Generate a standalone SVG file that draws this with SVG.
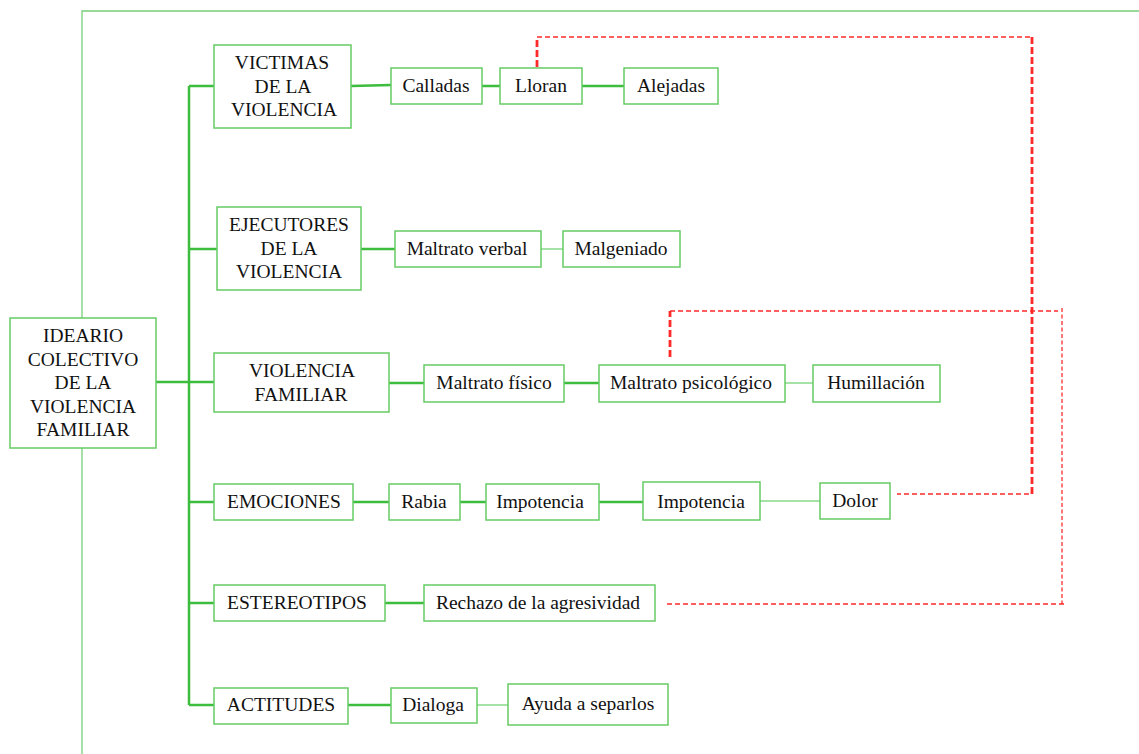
<svg xmlns="http://www.w3.org/2000/svg" width="1139" height="754" viewBox="0 0 1139 754">
<style>
.box{fill:#fff;stroke:#66cc66;stroke-width:1.5}
.t{font-family:'Liberation Serif','DejaVu Serif',serif;font-size:19.5px;fill:#111;text-anchor:middle}
.thick{stroke:#3dbd3d;stroke-width:2.5;fill:none}
.thin{stroke:#88d888;stroke-width:1.5;fill:none}
.frame{stroke:#77cf77;stroke-width:1.3;fill:none}
.rt{stroke:#ff2a2a;stroke-width:1.4;stroke-dasharray:5 3;fill:none}
.rk{stroke:#ff2a2a;stroke-width:2.8;stroke-dasharray:7 3;fill:none}
.rv{stroke:#ff4a4a;stroke-width:1.5;stroke-dasharray:4 2.5;fill:none}
</style>
<rect width="1139" height="754" fill="#fff"/>
<path class="frame" d="M82,754 V11 H1139"/>
<g id="connectors">
<path class="thick" d="M189,86 V705"/>
<path class="thick" d="M189,86 H214 M189,249 H217 M156,382 H214 M189,502 H214 M189,603 H214 M189,705 H214"/>
<path class="thick" d="M351,86 L391,85 M482,86 H500 M582,86 H624"/>
<path class="thick" d="M361,249 H395"/>
<path class="thin" d="M541,249 H563"/>
<path class="thick" d="M389,383 H424 M564,383 H599"/>
<path class="thin" d="M785,383 H813"/>
<path class="thick" d="M353,502 H389 M460,502 H486 M599,502 H643"/>
<path class="thin" d="M760,501 H820"/>
<path class="thick" d="M385,603 H424"/>
<path class="thick" d="M348,705 H391"/>
<path class="thin" d="M477,705 H508"/>
<path class="rk" d="M537,67 V37"/>
<path class="rt" d="M537,37 H1031"/>
<path class="rk" d="M1032,37 V494"/>
<path class="rt" d="M1029,494 H897"/>
<path class="rk" d="M670,357 V311"/>
<path class="rt" d="M670,311 H1058"/>
<path class="rv" d="M1062,308 V604"/>
<path class="rt" d="M1064,604 H665"/>
</g>
<g id="n-ideario"><rect class="box" x="10" y="318" width="146" height="130"/>
<text class="t" x="83" y="342">IDEARIO</text><text class="t" x="83" y="366">COLECTIVO</text><text class="t" x="83" y="389">DE LA</text><text class="t" x="83" y="413">VIOLENCIA</text><text class="t" x="83" y="436">FAMILIAR</text></g>
<g id="n-victimas"><rect class="box" x="214" y="45" width="137" height="83"/>
<text class="t" x="282" y="69">VICTIMAS</text><text class="t" x="283" y="93">DE LA</text><text class="t" x="284" y="116">VIOLENCIA</text></g>
<g id="n-ejecutores"><rect class="box" x="217" y="207" width="144" height="83"/>
<text class="t" x="289" y="231">EJECUTORES</text><text class="t" x="289" y="255">DE LA</text><text class="t" x="289" y="278">VIOLENCIA</text></g>
<g id="n-violfam"><rect class="box" x="214" y="353" width="175" height="59"/>
<text class="t" x="302" y="377">VIOLENCIA</text><text class="t" x="301" y="401">FAMILIAR</text></g>
<g id="n-emociones"><rect class="box" x="214" y="484" width="139" height="36"/><text class="t" x="284" y="508">EMOCIONES</text></g>
<g id="n-estereotipos"><rect class="box" x="214" y="585" width="171" height="36"/><text class="t" x="297" y="609">ESTEREOTIPOS</text></g>
<g id="n-actitudes"><rect class="box" x="214" y="688" width="134" height="36"/><text class="t" x="281" y="711">ACTITUDES</text></g>
<g id="n-calladas"><rect class="box" x="391" y="68" width="91" height="36"/><text class="t" x="436" y="92">Calladas</text></g>
<g id="n-lloran"><rect class="box" x="500" y="68" width="82" height="36"/><text class="t" x="541" y="92">Lloran</text></g>
<g id="n-alejadas"><rect class="box" x="624" y="68" width="94" height="36"/><text class="t" x="671" y="92">Alejadas</text></g>
<g id="n-mverbal"><rect class="box" x="395" y="231" width="146" height="36"/><text class="t" x="467" y="255">Maltrato verbal</text></g>
<g id="n-malgeniado"><rect class="box" x="563" y="231" width="117" height="36"/><text class="t" x="621" y="255">Malgeniado</text></g>
<g id="n-mfisico"><rect class="box" x="424" y="365" width="140" height="37"/><text class="t" x="494" y="389">Maltrato físico</text></g>
<g id="n-mpsico"><rect class="box" x="599" y="365" width="186" height="37"/><text class="t" x="691" y="389">Maltrato psicológico</text></g>
<g id="n-humillacion"><rect class="box" x="813" y="365" width="127" height="37"/><text class="t" x="876" y="389">Humillación</text></g>
<g id="n-rabia"><rect class="box" x="389" y="484" width="71" height="36"/><text class="t" x="424" y="508">Rabia</text></g>
<g id="n-impotencia1"><rect class="box" x="486" y="484" width="113" height="36"/><text class="t" x="540" y="508">Impotencia</text></g>
<g id="n-impotencia2"><rect class="box" x="643" y="482" width="117" height="38"/><text class="t" x="701" y="508">Impotencia</text></g>
<g id="n-dolor"><rect class="box" x="820" y="483" width="70" height="36"/><text class="t" x="855" y="507">Dolor</text></g>
<g id="n-rechazo"><rect class="box" x="424" y="585" width="231" height="36"/><text class="t" x="538" y="609">Rechazo de la agresividad</text></g>
<g id="n-dialoga"><rect class="box" x="391" y="688" width="86" height="35"/><text class="t" x="433" y="711">Dialoga</text></g>
<g id="n-ayuda"><rect class="box" x="508" y="684" width="160" height="41"/><text class="t" x="588" y="710">Ayuda a separlos</text></g>
</svg>
